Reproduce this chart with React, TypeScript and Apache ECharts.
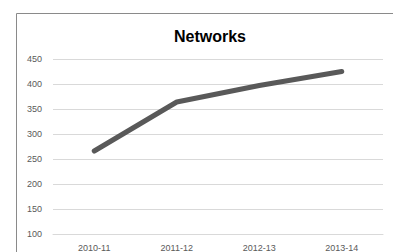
import React, { useEffect, useRef } from "react";
import * as echarts from "echarts";

const categories = ["2010-11", "2011-12", "2012-13", "2013-14"];
const networks = [266, 364, 397, 425];
const yTicks = { min: 100, max: 450, interval: 50 };
const title = "Networks";

export default function App() {
  const ref = useRef<HTMLDivElement>(null);
  useEffect(() => {
    const chart = echarts.init(ref.current!, null, { renderer: "svg" });
    chart.setOption({
      animation: false,
      backgroundColor: "#ffffff",
      title: {
        text: title,
        left: 205,
        top: 23,
        textAlign: "center",
        textStyle: { fontFamily: "Liberation Sans", fontWeight: "bold", fontSize: 16, color: "#000" },
      },
      graphic: [
        {
          type: "rect",
          shape: { x: 16.5, y: 13.5, width: 400, height: 260 },
          style: { fill: "none", stroke: "#8a8a8a", lineWidth: 1 },
          silent: true,
          z: -1,
        },
      ],
      grid: { left: 53, right: 10, top: 59, bottom: 17 },
      xAxis: {
        type: "category",
        data: categories,
        boundaryGap: true,
        axisLine: { show: true, lineStyle: { color: "#d9d9d9", width: 1 } },
        axisTick: { show: false },
        axisLabel: { fontFamily: "Liberation Sans", fontSize: 9, color: "#595959", margin: 9 },
      },
      yAxis: {
        type: "value",
        min: yTicks.min,
        max: yTicks.max,
        interval: yTicks.interval,
        axisLine: { show: false },
        axisTick: { show: false },
        splitLine: { lineStyle: { color: "#d9d9d9", width: 1 } },
        axisLabel: { fontFamily: "Liberation Sans", fontSize: 9, color: "#595959", margin: 11 },
      },
      series: [
        {
          type: "line",
          data: networks,
          showSymbol: false,
          symbol: "none",
          lineStyle: { color: "#595959", width: 5, cap: "round", join: "round" },
        },
      ],
    });
    return () => chart.dispose();
  }, []);
  return <div ref={ref} style={{ width: 393, height: 252, position: "absolute", left: 0, top: 0 }} />;
}
